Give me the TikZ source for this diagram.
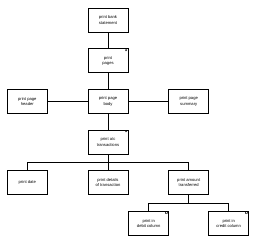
\documentclass[tikz,border=0pt]{standalone}
\usepackage{fontspec}
\setmainfont{Liberation Sans}
\usetikzlibrary{positioning,calc}
\tikzset{
  modul/.style={draw,line width=0.8pt,minimum width=1.6cm,minimum height=0.96cm,inner sep=1pt,
                align=center,font=\fontsize{4.7}{6}\selectfont},
  iter/.style={label={[font=\bfseries\fontsize{6.5}{6.5}\selectfont,anchor=north east,inner sep=1pt]north east:*}},
  valaszt/.style={label={[font=\bfseries\fontsize{6}{6}\selectfont,anchor=north east,inner sep=0.8pt]north east:o}},
  el/.style={line width=0.8pt},
}
\begin{document}
\begin{tikzpicture}[node distance=0.64cm and 1.6cm]
  \useasboundingbox (0,0) rectangle (10.24,-9.6);
  \node[modul] (m1) at (4.32,-0.8) {print bank\\statement};
  \node[modul,iter,below=of m1] (m2) {print\\pages};
  \node[modul,below=of m2] (m3) {print page\\body};
  \node[modul,left=of m3] (m4) {print page\\header};
  \node[modul,right=of m3] (m5) {print page\\summary};
  \node[modul,iter,below=of m3] (m6) {print a/c\\transactions};
  \node[modul,below=of m6] (m8) {print details\\of transaction};
  \node[modul,left=of m8] (m7) {print date};
  \node[modul,right=of m8] (m9) {print amount\\transferred};
  \node[modul,valaszt,below=of m9,xshift=-1.6cm] (m10) {print in\\debit column};
  \node[modul,valaszt,below=of m9,xshift=1.6cm] (m11) {print in\\credit column};
  \draw[el] (m1) -- (m2);
  \draw[el] (m2) -- (m3);
  \draw[el] (m4) -- (m3) -- (m5);
  \draw[el] (m3) -- (m6);
  \draw[el] (m6) -- (m8);
  \draw[el] (m7.north) -- ++(0,0.32) -| (m9.north);
  \draw[el] (m9.south) -- ++(0,-0.32);
  \draw[el] (m10.north) -- ++(0,0.32) -| (m11.north);
\end{tikzpicture}
\end{document}
